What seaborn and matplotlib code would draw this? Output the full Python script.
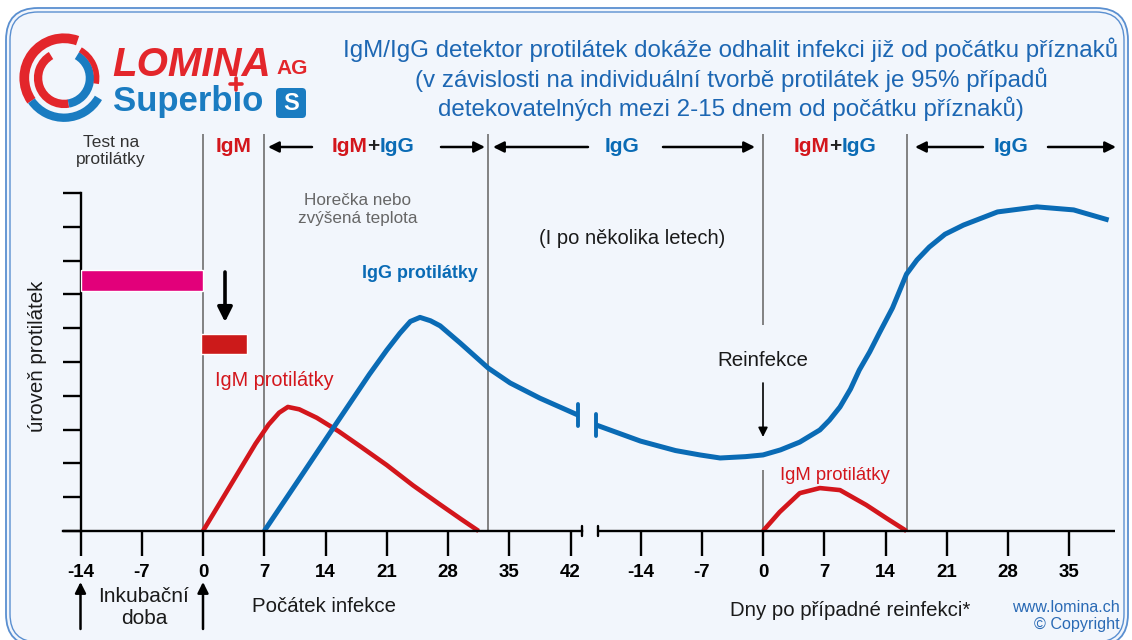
import matplotlib
matplotlib.use("Agg")
import matplotlib.pyplot as plt
import matplotlib.font_manager as fm
from matplotlib.patches import FancyBboxPatch, Arc
from matplotlib.transforms import IdentityTransform
import seaborn as sns

W, H = 1132, 640

# left panel: days since start of infection
igm_days = [0, 3, 6, 7.5, 8.7, 9.7, 11, 13, 15.5, 18, 21, 24, 27, 29.5, 31.5]
igm_level = [0, 1.29, 2.58, 3.15, 3.5, 3.67, 3.6, 3.35, 2.95, 2.5, 1.95, 1.35, 0.8, 0.35, 0]
igg_days = [7, 11, 15, 19, 21, 22.5, 23.7, 24.8, 26, 27.1, 29.4, 32.6, 35.1, 38.5, 42.86]
igg_level = [0, 1.54, 3.09, 4.63, 5.35, 5.85, 6.2, 6.32, 6.22, 6.07, 5.56, 4.82, 4.38, 3.93, 3.43]

# right panel: days after a possible reinfection
re_igg_days = [-19.1, -14, -10, -7.2, -4.9, -2, 0, 2, 4.2, 6.5, 7.6, 8.8, 10, 11, 12.2, 13.3,
               14.8, 16.4, 17.6, 19, 20.8, 22.9, 26.8, 31.3, 35.5, 39.5]
re_igg_level = [3.14, 2.66, 2.38, 2.25, 2.16, 2.2, 2.25, 2.4, 2.63, 2.99, 3.28, 3.67, 4.2,
                4.76, 5.3, 5.86, 6.6, 7.6, 8.02, 8.4, 8.78, 9.05, 9.44, 9.59, 9.5, 9.2]
re_igm_days = [0, 1.9, 4.2, 6.5, 8.8, 11.8, 14.1, 16.4]
re_igm_level = [0, 0.56, 1.12, 1.27, 1.21, 0.77, 0.38, 0]

left_ticks = [-14, -7, 0, 7, 14, 21, 28, 35, 42]
right_ticks = [-14, -7, 0, 7, 14, 21, 28, 35]
RIGHT_OFFSET = 64  # where day 0 of the reinfection panel sits on the shared axis

# test windows (start, end, level bottom, level top)
test_bar = [-14, 0, 7.10, 7.72]
igm_bar = [-0.2, 5.05, 5.24, 5.83]

RED = "#D3161C"
BLUE = "#0A6BB5"
GREY = "#6e6e6e"
INK = "#1a1a1a"


def x_of(px):
    return (px - 203) / 8.75


def y_of(py):
    return (531 - py) / 33.8


sns.set_theme(style="white")
names = {f.name for f in fm.fontManager.ttflist}
base = "Liberation Sans"
narrow = "Liberation Sans Narrow" if "Liberation Sans Narrow" in names else base
plt.rcParams["font.family"] = [base, "DejaVu Sans"]

fig = plt.figure(figsize=(W / 100, H / 100), dpi=100)
fig.patch.set_facecolor("white")
rend = fig.canvas.get_renderer()

# rounded double frame
fig.add_artist(FancyBboxPatch((6, -6), 1122, 638, boxstyle="round,pad=0,rounding_size=32",
                              transform=IdentityTransform(), facecolor="#F2F6FC",
                              edgecolor="#5a8fd0", lw=1.3, zorder=-5))
fig.add_artist(FancyBboxPatch((10, -2), 1114, 630, boxstyle="round,pad=0,rounding_size=28",
                              transform=IdentityTransform(), facecolor="none",
                              edgecolor="#5a8fd0", lw=1.0, zorder=-4))

ax = fig.add_axes([0, 0, 1, 1])
ax.patch.set_alpha(0)
ax.set_xlim(x_of(0), x_of(W))
ax.set_ylim(y_of(H), y_of(0))

# curves
sns.lineplot(x=igm_days, y=igm_level, color=RED, lw=3.3, ax=ax, solid_capstyle="butt")
sns.lineplot(x=igg_days, y=igg_level, color=BLUE, lw=3.6, ax=ax, solid_capstyle="butt")
sns.lineplot(x=[d + RIGHT_OFFSET for d in re_igg_days], y=re_igg_level, color=BLUE, lw=3.6,
             ax=ax, solid_capstyle="butt")
sns.lineplot(x=[d + RIGHT_OFFSET for d in re_igm_days], y=re_igm_level, color=RED, lw=3.3,
             ax=ax, solid_capstyle="butt")

# break marks on the IgG curve
ax.plot([igg_days[-1]] * 2, [igg_level[-1] - 0.33, igg_level[-1] + 0.33], color=BLUE, lw=2.8)
x_re0 = re_igg_days[0] + RIGHT_OFFSET
ax.plot([x_re0] * 2, [re_igg_level[0] - 0.33, re_igg_level[0] + 0.33], color=BLUE, lw=2.8)

# test bars
ax.barh(y=(test_bar[2] + test_bar[3]) / 2, width=test_bar[1] - test_bar[0], left=test_bar[0],
        height=test_bar[3] - test_bar[2], color="#E2007A", zorder=3)
ax.barh(y=(igm_bar[2] + igm_bar[3]) / 2, width=igm_bar[1] - igm_bar[0], left=igm_bar[0],
        height=igm_bar[3] - igm_bar[2], color="#CC1A1A", zorder=3)

# phase separators
top = y_of(134)
ax.vlines([0, 7, 32.6, RIGHT_OFFSET + 16.45], 0, top, color=GREY, lw=1.2, zorder=1)
ax.vlines([RIGHT_OFFSET, RIGHT_OFFSET], [0, y_of(325)], [y_of(470), top], color=GREY, lw=1.2,
          zorder=1)

# axes
for s in ["top", "right"]:
    ax.spines[s].set_visible(False)
ax.spines["left"].set_position(("data", -14))
ax.spines["left"].set_bounds(0, 10)
ax.spines["bottom"].set_position(("data", 0))
ax.spines["bottom"].set_bounds(x_of(63), x_of(582))
for s in ["left", "bottom"]:
    ax.spines[s].set_color("black")
    ax.spines[s].set_linewidth(1.7)
ax.plot([x_of(598), x_of(1115)], [0, 0], color="black", lw=1.7, solid_capstyle="butt")
for bx in [582, 598]:
    ax.plot([x_of(bx)] * 2, [-0.15, 0.15], color="black", lw=1.7)

ax.set_yticks(range(11))
ax.set_yticklabels([])
ax.set_xticks(left_ticks + [d + RIGHT_OFFSET for d in right_ticks])
ax.set_xticklabels([str(t) for t in left_ticks] + [str(t) for t in right_ticks],
                   fontweight="bold", fontsize=13.5, family=[narrow, "DejaVu Sans"])
ax.tick_params(axis="y", left=True, direction="out", length=13, width=1.7, color="black")
ax.tick_params(axis="x", bottom=True, direction="out", length=18, width=1.7, color="black",
               pad=6, labelcolor="black")
ax.set_xlabel("")
ax.set_ylabel("")

# header row
hy = y_of(147)
hfs = 15
ax.text(x_of(111), y_of(151), "Test na\nprotilátky", ha="center", va="center", fontsize=12.5,
        color="#333333", linespacing=1.15)
ax.text(x_of(234), hy, "IgM", color=RED, ha="center", va="center", fontsize=hfs,
        fontweight="bold")
for cx in [373, 835]:
    parts = [ax.text(0, hy, s, color=c, ha="left", va="center", fontsize=hfs, fontweight="bold")
             for s, c in [("IgM", RED), ("+", "#222222"), ("IgG", BLUE)]]
    widths = [t.get_window_extent(rend).width for t in parts]
    run = cx - sum(widths) / 2
    for t, w in zip(parts, widths):
        t.set_x(x_of(run))
        run += w
ax.text(x_of(622), hy, "IgG", color=BLUE, ha="center", va="center", fontsize=hfs,
        fontweight="bold")
ax.text(x_of(1011), hy, "IgG", color=BLUE, ha="center", va="center", fontsize=hfs,
        fontweight="bold")

akw = dict(arrowstyle="-|>", color="black", lw=1.8, mutation_scale=16, shrinkA=0, shrinkB=0)
for tail, head in [(312, 268), (441, 485), (588, 493), (663, 755), (983, 915), (1048, 1116)]:
    ax.annotate("", xy=(x_of(head), hy), xytext=(x_of(tail), hy), arrowprops=akw)

# annotations
ax.text(x_of(358), y_of(210), "Horečka nebo\nzvýšená teplota", ha="center", va="center",
        fontsize=12.3, color="#666666", linespacing=1.25)
ax.text(x_of(632), y_of(238), "(I po několika letech)", ha="center", va="center",
        fontsize=14.5, color=INK)
ax.text(x_of(420), y_of(273), "IgG protilátky", ha="center", va="center", fontsize=12.9,
        fontweight="bold", color=BLUE)
ax.text(x_of(274), y_of(380), "IgM protilátky", ha="center", va="center", fontsize=14.3,
        color=RED)
ax.text(x_of(763), y_of(360), "Reinfekce", ha="center", va="center", fontsize=14.8,
        color=INK)
ax.text(x_of(835), y_of(475), "IgM protilátky", ha="center", va="center", fontsize=13.3,
        color=RED)
ax.text(x_of(38), y_of(356), "úroveň protilátek", ha="center", va="center", rotation=90,
        fontsize=14.8, color=INK)

ax.annotate("", xy=(x_of(225), y_of(322)), xytext=(x_of(225), y_of(272)),
            arrowprops=dict(arrowstyle="-|>", color="black", lw=2.6, mutation_scale=22,
                            shrinkA=0, shrinkB=0))
ax.annotate("", xy=(RIGHT_OFFSET, y_of(437)), xytext=(RIGHT_OFFSET, y_of(383)),
            arrowprops=dict(arrowstyle="-|>", color="black", lw=1.2, mutation_scale=14,
                            shrinkA=0, shrinkB=0))
for d in [-14, 0]:
    ax.annotate("", xy=(d, y_of(582)), xytext=(d, y_of(629)),
                arrowprops=dict(arrowstyle="-|>", color="black", lw=1.8, mutation_scale=16,
                                shrinkA=0, shrinkB=0))

ax.text(x_of(144), y_of(608), "Inkubační\ndoba", ha="center", va="center", fontsize=15,
        color=INK, linespacing=1.2)
ax.text(x_of(324), y_of(607), "Počátek infekce", ha="center", va="center", fontsize=14.7,
        color=INK)
ax.text(x_of(850), y_of(610), "Dny po případné reinfekci*", ha="center", va="center",
        fontsize=14.7, color=INK)
ax.text(x_of(1120), y_of(616), "www.lomina.ch\n© Copyright", ha="right", va="center",
        fontsize=11.6, color="#2a6ab5", linespacing=1.15)

# title
title = ["IgM/IgG detektor protilátek dokáže odhalit infekci již od počátku příznaků",
         "(v závislosti na individuální tvorbě protilátek je 95% případů",
         "detekovatelných mezi 2-15 dnem od počátku příznaků)"]
tsize = 18 if narrow != base else 17.4
for line, py in zip(title, [50, 80, 109]):
    fig.text(731 / W, 1 - py / H, line, ha="center", va="center", fontsize=tsize,
             color="#1d67b3", family=[narrow, "DejaVu Sans"])

# logo
fig.text(112 / W, 1 - 65 / H, "LOMINA", ha="left", va="center", fontsize=29,
         fontweight="heavy", style="italic", color="#E3262B", family=[narrow, "DejaVu Sans"])
fig.text(276 / W, 1 - 68 / H, "AG", ha="left", va="center", fontsize=15,
         fontweight="bold", color="#E3262B", family=[narrow, "DejaVu Sans"])
fig.text(113 / W, 1 - 102 / H, "Superbıo", ha="left", va="center", fontsize=25,
         fontweight="bold", color="#1A7CC1", family=[narrow, "DejaVu Sans"])
head = fig.text(113 / W, 1 - 102 / H, "Superb", ha="left", va="center", fontsize=25,
                fontweight="bold", color="none", family=[narrow, "DejaVu Sans"])
ix = head.get_window_extent(rend).x1 + 3
head.remove()
iy = 640 - 84
fig.add_artist(plt.Line2D([ix - 6, ix + 6], [iy, iy], transform=IdentityTransform(),
                          color="#E3262B", lw=2.6))
fig.add_artist(plt.Line2D([ix, ix], [iy - 6, iy + 6], transform=IdentityTransform(),
                          color="#E3262B", lw=2.6))
fig.add_artist(FancyBboxPatch((276, 640 - 118), 30, 30, boxstyle="round,pad=0,rounding_size=4",
                              transform=IdentityTransform(), facecolor="#1A7CC1",
                              edgecolor="none"))
fig.text(291 / W, 1 - 103 / H, "S", ha="center", va="center", fontsize=17,
         fontweight="bold", color="white")

lax = fig.add_axes([18 / W, 1 - 124 / H, 92 / W, 92 / H])
lax.set_xlim(-1.1, 1.1)
lax.set_ylim(-1.1, 1.1)
lax.set_aspect("equal")
lax.axis("off")
for r, a0, a1, col, lw in [(0.95, 70, 215, "#E3262B", 7), (0.95, 215, 330, "#1A7CC1", 6),
                           (0.62, 120, 280, "#E3262B", 6), (0.62, 280, 60, "#1A7CC1", 6),
                           (0.78, 350, 60, "#E3262B", 4)]:
    lax.add_patch(Arc((0, 0), 2 * r, 2 * r, theta1=a0, theta2=a1, color=col, lw=lw))

fig.savefig("out.png", dpi=100)
